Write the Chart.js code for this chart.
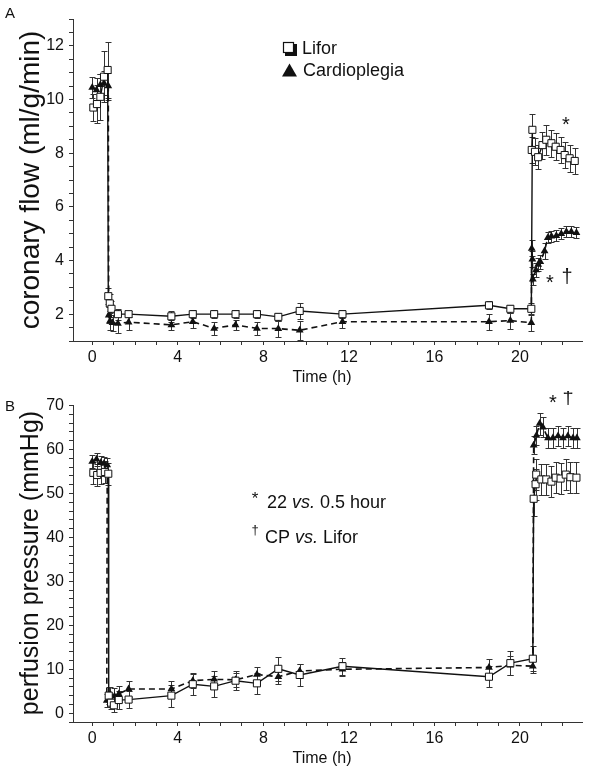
<!DOCTYPE html>
<html>
<head>
<meta charset="utf-8">
<script src="https://cdn.jsdelivr.net/npm/chart.js@4.4.0/dist/chart.umd.min.js"></script>
<style>
  html, body { margin: 0; padding: 0; background: #fff; }
  #wrap { position: relative; width: 600px; height: 782px; }
  canvas { position: absolute; left: 0; }
</style>
</head>
<body>
<div id="wrap">
  <canvas id="chartA" width="600" height="391" style="top:0"></canvas>
  <canvas id="chartB" width="600" height="391" style="top:391px"></canvas>
</div>
<script>
// ---- data (time in hours) ----
// panel A: coronary flow (ml/g/min)
const liforFlowTime = [0.05, 0.22, 0.38, 0.55, 0.72,
  0.75, 0.82, 0.9, 1.2, 1.7, 3.7, 4.7, 5.7, 6.7, 7.7, 8.7, 9.7, 11.7, 18.55, 19.55, 20.53,
  20.58, 20.55, 20.7, 20.85, 21.05, 21.23, 21.47, 21.67, 21.9, 22.09, 22.32, 22.56];
const liforFlow = [9.7, 9.83, 10.1, 10.85, 11.1,
  2.67, 2.4, 2.2, 2.0, 2.0, 1.92, 2.0, 2.0, 2.0, 2.0, 1.9, 2.12, 2.0, 2.33, 2.2, 2.2,
  8.87, 8.12, 8.05, 7.85, 8.3, 8.5, 8.37, 8.24, 8.12, 7.93, 7.81, 7.71];
const liforFlowSd = [0.5, 0.7, 0.85, 0.95, 1.05,
  0.3, 0.35, 0.3, 0.2, 0.1, 0.2, 0.15, 0.15, 0.15, 0.15, 0.15, 0.3, 0.15, 0.15, 0.15, 0.2,
  0.6, 0.5, 0.5, 0.45, 0.5, 0.55, 0.5, 0.5, 0.5, 0.5, 0.5, 0.5];

const cpFlowTime = [0, 0.2, 0.38, 0.56, 0.75,
  0.77, 0.83, 0.95, 1.2, 1.7, 3.7, 4.7, 5.7, 6.7, 7.7, 8.7, 9.7, 11.7, 18.55, 19.55, 20.53,
  20.55, 20.58, 20.6, 20.75, 20.85, 20.95, 21.15, 21.3, 21.47, 21.7, 21.93, 22.17, 22.4, 22.64];
const cpFlow = [10.45, 10.35, 10.55, 10.6, 10.5,
  1.96, 1.75, 1.68, 1.65, 1.7, 1.6, 1.72, 1.47, 1.6, 1.47, 1.46, 1.4, 1.72, 1.72, 1.76, 1.68,
  4.45, 4.05, 3.3, 3.65, 3.85, 3.95, 4.35, 4.85, 4.9, 4.92, 5.0, 5.07, 5.07, 5.03];
const cpFlowSd = [0.4, 0.45, 0.4, 0.45, 0.5,
  0.3, 0.35, 0.3, 0.35, 0.3, 0.2, 0.25, 0.25, 0.2, 0.25, 0.3, 0.35, 0.25, 0.3, 0.3, 0.3,
  0.3, 0.3, 0.2, 0.25, 0.25, 0.25, 0.3, 0.2, 0.2, 0.2, 0.2, 0.2, 0.2, 0.2];

// panel B: perfusion pressure (mmHg)
const liforPressTime = [0.05, 0.23, 0.39, 0.59, 0.75,
  0.77, 0.88, 1.01, 1.24, 1.7, 3.7, 4.7, 5.7, 6.7, 7.7, 8.7, 9.7, 11.7, 18.55, 19.55, 20.6,
  20.64, 20.73, 20.76, 21.0, 21.23, 21.47, 21.67, 21.9, 22.14, 22.36, 22.64];
const liforPress = [54.7, 54.2, 54.7, 54.9, 54.5,
  4.0, 2.4, 1.8, 3.0, 3.1, 4.0, 6.6, 6.1, 7.4, 6.8, 10.1, 8.7, 10.7, 8.3, 11.4, 12.4,
  48.8, 52.1, 54.3, 53.2, 53.2, 52.7, 53.6, 53.4, 54.3, 53.7, 53.6];
const liforPressSd = [2.5, 2.5, 2.5, 2.5, 2.5,
  2.0, 1.5, 1.5, 2.0, 2.0, 2.5, 2.5, 2.4, 2.2, 2.4, 2.8, 2.6, 1.9, 2.4, 2.8, 2.8,
  4.0, 3.5, 3.5, 3.5, 3.5, 3.5, 3.5, 3.5, 3.5, 3.5, 3.5];

const cpPressTime = [0, 0.2, 0.4, 0.55, 0.7,
  0.68, 0.85, 1.04, 1.24, 1.7, 3.7, 4.7, 5.7, 6.7, 7.7, 8.7, 9.7, 11.7, 18.55, 19.55, 20.6,
  20.64, 20.77, 20.92, 21.07, 21.31, 21.54, 21.78, 22.01, 22.24, 22.48, 22.66];
const cpPress = [57.3, 57.8, 57.0, 56.8, 56.5,
  2.9, 4.2, 3.85, 4.4, 5.5, 5.5, 7.4, 7.7, 7.6, 8.8, 8.3, 9.6, 10.0, 10.4, 10.9, 10.7,
  61.0, 63.2, 65.9, 65.1, 62.6, 62.6, 63.1, 62.6, 63.1, 62.6, 62.6];
const cpPressSd = [1.5, 1.5, 1.5, 1.5, 1.5,
  1.5, 1.8, 1.8, 1.8, 1.8, 1.8, 1.6, 1.8, 1.6, 1.8, 1.6, 1.7, 1.6, 2.0, 2.1, 1.6,
  2.0, 2.2, 2.5, 2.2, 2.3, 2.3, 2.3, 2.3, 2.3, 2.3, 2.3];

const timeTicks = [0, 4, 8, 12, 16, 20];
const flowTicks = [2, 4, 6, 8, 10, 12];
const pressTicks = [0, 10, 20, 30, 40, 50, 60, 70];

const FONT = "'Liberation Sans', Arial, Helvetica, sans-serif";
const INK = '#111';

function points(t, v, sd) {
  return t.map((x, i) => ({ x: x, y: v[i], sd: sd[i] }));
}

// error bars, drawn under the markers
const errorBars = {
  id: 'errorBars',
  beforeDatasetsDraw(chart) {
    const ctx = chart.ctx;
    const y = chart.scales.y;
    ctx.save();
    ctx.strokeStyle = '#333';
    ctx.lineWidth = 1;
    chart.data.datasets.forEach((ds, di) => {
      const meta = chart.getDatasetMeta(di);
      meta.data.forEach((el, i) => {
        const p = ds.data[i];
        const top = Math.round(y.getPixelForValue(p.y + p.sd)) + 0.5;
        const bot = Math.round(y.getPixelForValue(p.y - p.sd)) + 0.5;
        const x = Math.round(el.x) + 0.5;
        ctx.beginPath();
        ctx.moveTo(x, top); ctx.lineTo(x, bot);
        ctx.moveTo(x - 3, top); ctx.lineTo(x + 3, top);
        ctx.moveTo(x - 3, bot); ctx.lineTo(x + 3, bot);
        ctx.stroke();
      });
    });
    ctx.restore();
  }
};

function rich(ctx, parts, x, y, size) {
  parts.forEach(p => {
    ctx.font = (p.i ? 'italic ' : '') + size + 'px ' + FONT;
    ctx.fillText(p.t, x, y);
    x += ctx.measureText(p.t).width;
  });
}

// titles, panel letters, annotations, legend
const texts = {
  id: 'texts',
  afterDraw(chart, args, o) {
    const ctx = chart.ctx;
    const a = chart.chartArea;
    ctx.save();
    ctx.fillStyle = INK;
    ctx.textBaseline = 'alphabetic';

    ctx.font = '15px ' + FONT;
    ctx.textAlign = 'left';
    ctx.fillText(o.letter, 5, o.letterY);

    ctx.textAlign = 'center';
    ctx.font = '16px ' + FONT;
    ctx.fillText('Time (h)', 322, a.bottom + 41);

    ctx.save();
    ctx.translate(31, o.yTitleY);
    ctx.rotate(-Math.PI / 2);
    ctx.textBaseline = 'middle';
    ctx.font = o.yTitleSize + 'px ' + FONT;
    ctx.fillText(o.yTitle, 0, 0);
    ctx.restore();

    o.marks.forEach(m => {
      ctx.font = m.size + 'px ' + FONT;
      ctx.fillText(m.t, m.x, m.y);
    });

    ctx.textAlign = 'left';
    (o.notes || []).forEach(n => rich(ctx, n.parts, n.x, n.y, n.size));

    if (o.legend) {
      // open square with shadow
      ctx.fillStyle = INK;
      ctx.fillRect(285, 44, 12, 12);
      ctx.fillStyle = '#fff';
      ctx.fillRect(283, 42, 11, 11);
      ctx.strokeStyle = INK;
      ctx.lineWidth = 1.2;
      ctx.strokeRect(283.5, 42.5, 10, 10);
      // filled triangle
      ctx.fillStyle = INK;
      ctx.beginPath();
      ctx.moveTo(289.5, 63.5); ctx.lineTo(297, 76.5); ctx.lineTo(282, 76.5);
      ctx.closePath(); ctx.fill();
      ctx.font = '18px ' + FONT;
      ctx.fillText('Lifor', 302, 54);
      ctx.fillText('Cardioplegia', 303, 76);
    }
    ctx.restore();
  }
};

function makeChart(id, cfg) {
  return new Chart(document.getElementById(id), {
    type: 'scatter',
    data: {
      datasets: [{
        label: 'Lifor',
        data: points(cfg.liforT, cfg.lifor, cfg.liforSd),
        showLine: true,
        borderColor: INK,
        borderWidth: 1.4,
        pointStyle: 'rect',
        pointRadius: 5,
        pointBackgroundColor: '#fff',
        pointBorderColor: INK,
        pointBorderWidth: 1
      }, {
        label: 'Cardioplegia',
        data: points(cfg.cpT, cfg.cp, cfg.cpSd),
        showLine: true,
        borderColor: INK,
        borderWidth: 1.6,
        borderDash: [6, 4],
        pointStyle: 'triangle',
        pointRadius: 4.5,
        pointBackgroundColor: INK,
        pointBorderColor: INK,
        pointBorderWidth: 0
      }]
    },
    options: {
      responsive: false,
      animation: false,
      layout: { padding: { top: cfg.top, right: 18, left: 0, bottom: 0 } },
      plugins: {
        legend: { display: false },
        tooltip: { enabled: false },
        texts: cfg.texts
      },
      scales: {
        x: {
          type: 'linear',
          min: -0.9,
          max: 22.9,
          afterFit: s => { s.height = cfg.xHeight; },
          grid: { drawOnChartArea: false, drawTicks: true, tickLength: 4, tickColor: '#333' },
          border: { color: '#333', width: 1 },
          ticks: {
            stepSize: 1,
            includeBounds: false,
            autoSkip: false,
            maxRotation: 0,
            maxTicksLimit: 100,
            padding: 3,
            color: INK,
            font: { family: FONT, size: 16 },
            callback: v => timeTicks.includes(v) ? String(v) : ''
          }
        },
        y: {
          min: cfg.yMin,
          max: cfg.yMax,
          afterFit: s => { s.width = 73; },
          grid: { drawOnChartArea: false, drawTicks: true, tickLength: 4, tickColor: '#333' },
          border: { color: '#333', width: 1 },
          ticks: {
            stepSize: cfg.yStep,
            includeBounds: false,
            autoSkip: false,
            maxTicksLimit: 100,
            padding: 5,
            color: INK,
            font: { family: FONT, size: 16 },
            callback: v => cfg.yLabels.includes(v) ? String(v) : ''
          }
        }
      }
    },
    plugins: [errorBars, texts]
  });
}

makeChart('chartA', {
  liforT: liforFlowTime, lifor: liforFlow, liforSd: liforFlowSd,
  cpT: cpFlowTime, cp: cpFlow, cpSd: cpFlowSd,
  top: 19, xHeight: 50,
  yMin: 1, yMax: 13, yStep: 0.5, yLabels: flowTicks,
  texts: {
    letter: 'A', letterY: 18,
    yTitle: 'coronary flow (ml/g/min)', yTitleSize: 28, yTitleY: 180,
    marks: [
      { t: '*', x: 566, y: 131, size: 20 },
      { t: '*', x: 550, y: 289, size: 20 },
      { t: '\u2020', x: 567, y: 283, size: 20 }
    ],
    legend: true
  }
});

makeChart('chartB', {
  liforT: liforPressTime, lifor: liforPress, liforSd: liforPressSd,
  cpT: cpPressTime, cp: cpPress, cpSd: cpPressSd,
  top: 9, xHeight: 60,
  yMin: -2, yMax: 70, yStep: 2, yLabels: pressTicks,
  texts: {
    letter: 'B', letterY: 20,
    yTitle: 'perfusion pressure (mmHg)', yTitleSize: 25, yTitleY: 172,
    marks: [
      { t: '*', x: 553, y: 18, size: 20 },
      { t: '\u2020', x: 568, y: 13, size: 20 },
      { t: '*', x: 255, y: 113, size: 17 },
      { t: '\u2020', x: 255, y: 143, size: 13 }
    ],
    notes: [
      { x: 267, y: 117, size: 18, parts: [{ t: '22 ' }, { t: 'vs.', i: true }, { t: ' 0.5 hour' }] },
      { x: 265, y: 152, size: 18, parts: [{ t: 'CP ' }, { t: 'vs.', i: true }, { t: ' Lifor' }] }
    ]
  }
});
</script>
</body>
</html>
